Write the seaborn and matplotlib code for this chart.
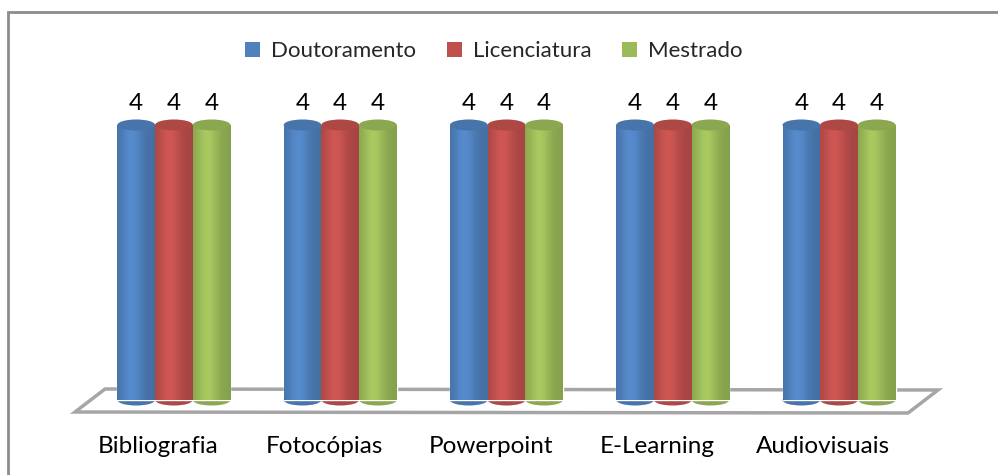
import matplotlib
matplotlib.use("Agg")
import matplotlib.pyplot as plt
import matplotlib.transforms as mtransforms
from matplotlib.patches import Ellipse, Patch, Polygon, Rectangle
import numpy as np
import pandas as pd
import seaborn as sns

# chart data
categories = ["Bibliografia", "Fotocópias", "Powerpoint", "E-Learning", "Audiovisuais"]
series = ["Doutoramento", "Licenciatura", "Mestrado"]
doutoramento = [4, 4, 4, 4, 4]
licenciatura = [4, 4, 4, 4, 4]
mestrado = [4, 4, 4, 4, 4]
colors = ["#4f81bd", "#c0504d", "#9bbb59"]

W, H = 998, 475


def fig_xy(px, py):
    """pixel coords (top-left origin) -> figure fraction"""
    return px / W, 1 - py / H


df = pd.DataFrame({
    "Recurso": categories * 3,
    "Nivel": [s for s in series for _ in categories],
    "Valor": doutoramento + licenciatura + mestrado,
})

sns.set_theme(style="white")
plt.rcParams["font.family"] = ["Lato", "DejaVu Sans"]

fig = plt.figure(figsize=(W / 100, H / 100), dpi=100)
ax = fig.add_axes([75 / W, 1 - 415 / H, (940 - 75) / W, (415 - 60) / H])
ax.set_facecolor("none")

sns.barplot(data=df, x="Recurso", y="Valor", hue="Nivel", palette=colors,
            width=0.68, saturation=1, legend=False, ax=ax, zorder=2)

xlim = (-0.595, 4.607)
ylim = (-0.218, 4.945)
px_per_unit = 68.75
cap_h = 11 / px_per_unit

# turn flat bars into shaded cylinders
t = np.linspace(0, 1, 64)
shade = 0.86 + 0.22 * np.exp(-((t - 0.38) / 0.3) ** 2)
for cont in ax.containers:
    for bar in cont:
        x0, w, h = bar.get_x(), bar.get_width(), bar.get_height()
        base = np.array(bar.get_facecolor()[:3])
        xc = x0 + w / 2
        img = np.clip(base[None, None, :] * shade[None, :, None], 0, 1)
        ax.add_patch(Ellipse((xc, 0), w, cap_h, facecolor=base * 0.9,
                             edgecolor="none", zorder=1.8))
        im = ax.imshow(img, extent=(x0, x0 + w, 0, h), aspect="auto",
                       zorder=2.1, interpolation="bilinear")
        im.set_clip_path(bar)
        ax.add_patch(Ellipse((xc, h), w, cap_h, facecolor=base * 0.9,
                             edgecolor="none", zorder=2.2))
    ax.bar_label(cont, padding=8, fontsize=17.5, color="#000000")

# floor of the 3d plot
floor = [fig_xy(75, 412), fig_xy(908, 413), fig_xy(938, 390), fig_xy(105, 389)]
ax.add_patch(Polygon(floor, closed=True, transform=fig.transFigure,
                     facecolor="white", edgecolor="#a6a6a6", lw=2.5,
                     clip_on=False, zorder=0.5))

ax.set_xlim(*xlim)
ax.set_ylim(*ylim)
ax.set_xlabel("")
ax.set_ylabel("")
ax.set_yticks([])
for s in ax.spines.values():
    s.set_visible(False)
ax.tick_params(axis="x", length=0, pad=15, labelsize=17.5, labelcolor="#000000")
shift = mtransforms.ScaledTranslation(-16 / 100, 0, fig.dpi_scale_trans)
for lab in ax.get_xticklabels():
    lab.set_transform(lab.get_transform() + shift)

# legend
handles = [Patch(facecolor=c, edgecolor="none") for c in colors]
fig.legend(handles, series, loc="center", bbox_to_anchor=(494 / W, 1 - 51 / H),
           ncol=3, frameon=False, fontsize=16, handlelength=0.65,
           handleheight=0.65, handletextpad=0.5, columnspacing=1.4)

# outer chart border
fig.add_artist(Rectangle(fig_xy(8, 485), (1010 - 8) / W, (485 - 11.5) / H,
                         transform=fig.transFigure, fill=False,
                         edgecolor="#8c8c8c", lw=2))

fig.savefig("out.png", dpi=100)
